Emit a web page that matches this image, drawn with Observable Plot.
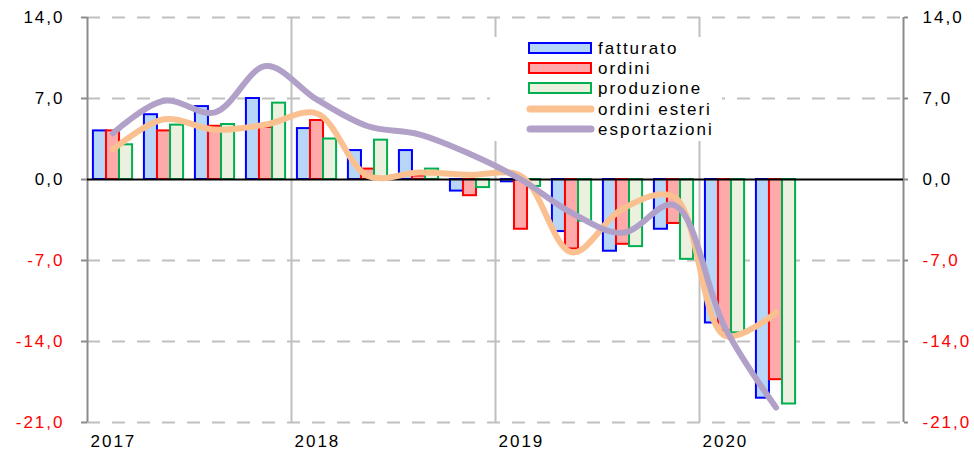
<!DOCTYPE html>
<html><head><meta charset="utf-8">
<script src="https://cdn.jsdelivr.net/npm/d3@7"></script>
<script src="https://cdn.jsdelivr.net/npm/@observablehq/plot@0.6"></script>
<style>
body{margin:0;background:#fff;}
#wrap{position:relative;width:974px;height:452px;font-family:"Liberation Sans",Arial,sans-serif;}
#legend{position:absolute;left:490px;top:37px;}
</style></head>
<body><div id="wrap"></div>
<script>
// quarters 2017 T1 .. 2020 T2
const quarters = ["2017T1","2017T2","2017T3","2017T4","2018T1","2018T2","2018T3","2018T4",
                  "2019T1","2019T2","2019T3","2019T4","2020T1","2020T2"];
const fatturato   = [4.2, 5.6, 6.3, 7.0, 4.4, 2.5, 2.5, -1.0, -0.2, -4.5, -6.2, -4.3, -12.4, -18.9];
const ordini      = [4.2, 4.2, 4.6, 4.5, 5.1, 0.9, 0.3, -1.4, -4.3, -6.0, -5.6, -3.8, -13.1, -17.3];
const produzione  = [3.0, 4.7, 4.75, 6.6, 3.5, 3.4, 0.9, -0.7, -0.6, -3.6, -5.8, -6.9, -13.25, -19.4];
const ordiniEsteri = [2.6, 5.2, 4.3, 4.75, 5.7, 0.3, 0.6, 0.4, 0.3, -6.3, -2.5, -1.5, -13.5, -11.5];
const esportazioni = [4.0, 6.8, 5.8, 9.8, 6.9, 4.6, 3.9, 2.2, 0.0, -2.9, -4.6, -2.2, -12.8, -19.7];
const years = [2017, 2018, 2019, 2020];
const yTicksPos = [0, 7, 14];
const yTicksNeg = [-7, -14, -21];

const barSeries = [
  {name: "fatturato", values: fatturato, fill: "#b7d6f8", stroke: "#0000ff"},
  {name: "ordini", values: ordini, fill: "#ffaaaa", stroke: "#ff0000"},
  {name: "produzione", values: produzione, fill: "#ebf1de", stroke: "#00b050"}
];
const lineSeries = [
  {name: "ordini esteri", values: ordiniEsteri, stroke: "#fac090"},
  {name: "esportazioni", values: esportazioni, stroke: "#b1a0c7"}
];

const qTime = q => +q.slice(0, 4) + (+q.slice(5) - 1) * 0.25;
const bw = 0.064;
const bars = barSeries.map((s, k) => ({
  ...s,
  rows: quarters.map((q, i) => {
    const x1 = qTime(q) + 0.125 + (k - 1.5) * bw;
    return {q, x1, x2: x1 + bw, v: s.values[i]};
  })
}));
const lines = lineSeries.map(s => ({
  ...s,
  rows: quarters.map((q, i) => ({q, t: qTime(q) + 0.125, v: s.values[i]}))
}));
const fmt = d => d.toFixed(1).replace(".", ",");

const plot = Plot.plot({
  width: 974, height: 452,
  marginLeft: 87, marginRight: 71, marginTop: 17, marginBottom: 30,
  x: {domain: [2017, 2021], axis: null},
  y: {domain: [-21, 14], axis: null},
  style: {fontFamily: '"Liberation Sans", Arial, sans-serif', fontSize: "17px", letterSpacing: "2px", overflow: "visible", background: "#fff"},
  marks: [
    Plot.ruleY([14, 7, -7, -14, -21], {stroke: "#c0c0c0", strokeWidth: 2, strokeDasharray: "13,12"}),
    Plot.ruleX([2018, 2019, 2020], {stroke: "#c0c0c0", strokeWidth: 2}),
    Plot.ruleX([2017, 2021], {stroke: "#8c8c8c", strokeWidth: 2}),
    ...bars.map(s => Plot.rectY(s.rows, {x1: "x1", x2: "x2", y1: 0, y2: "v", fill: s.fill, stroke: s.stroke, strokeWidth: 2})),
    Plot.ruleY([0], {stroke: "#000", strokeWidth: 2}),
    ...lines.map(s => Plot.line(s.rows, {x: "t", y: "v", curve: "catmull-rom", stroke: s.stroke, strokeWidth: 6, strokeLinecap: "round"})),
    Plot.axisY(yTicksPos, {anchor: "left", label: null, tickSize: 6, tickPadding: 17, tickFormat: fmt, stroke: "#8c8c8c", strokeWidth: 2, fill: "#000"}),
    Plot.axisY(yTicksNeg, {anchor: "left", label: null, tickSize: 6, tickPadding: 17, tickFormat: fmt, stroke: "#8c8c8c", strokeWidth: 2, fill: "#ff0000"}),
    Plot.axisY(yTicksPos, {anchor: "right", label: null, tickSize: 4, tickPadding: 15, tickFormat: fmt, stroke: "#8c8c8c", strokeWidth: 2, fill: "#000"}),
    Plot.axisY(yTicksNeg, {anchor: "right", label: null, tickSize: 4, tickPadding: 15, tickFormat: fmt, stroke: "#8c8c8c", strokeWidth: 2, fill: "#ff0000"}),
    Plot.axisX(years, {anchor: "bottom", label: null, tickSize: 0, tickPadding: 12, tickFormat: d => String(d), textAnchor: "start", dx: 3, fill: "#000"})
  ]
});
const wrap = document.getElementById("wrap");
wrap.appendChild(plot);

// legend overlay
const legendItems = [
  ...barSeries.map(s => ({name: s.name, type: "rect", fill: s.fill, stroke: s.stroke})),
  ...lineSeries.map(s => ({name: s.name, type: "line", stroke: s.stroke}))
];
const lg = d3.select(wrap).append("svg").attr("id", "legend")
  .attr("width", 232).attr("height", 104)
  .style("font-family", '"Liberation Sans", Arial, sans-serif')
  .style("font-size", "17px").style("letter-spacing", "2px");
lg.append("rect").attr("width", 232).attr("height", 104).attr("fill", "#fff");
const rowY = [11, 31, 51, 72, 92];
legendItems.forEach((it, i) => {
  const cy = rowY[i];
  if (it.type === "rect") {
    lg.append("rect").attr("x", 39).attr("y", cy - 5).attr("width", 62).attr("height", 10)
      .attr("fill", it.fill).attr("stroke", it.stroke).attr("stroke-width", 2);
  } else {
    lg.append("line").attr("x1", 40).attr("x2", 101).attr("y1", cy).attr("y2", cy)
      .attr("stroke", it.stroke).attr("stroke-width", 7).attr("stroke-linecap", "round");
  }
  lg.append("text").attr("x", 108).attr("y", cy).attr("dy", "0.35em").attr("fill", "#000").text(it.name);
});
</script>
</body></html>
